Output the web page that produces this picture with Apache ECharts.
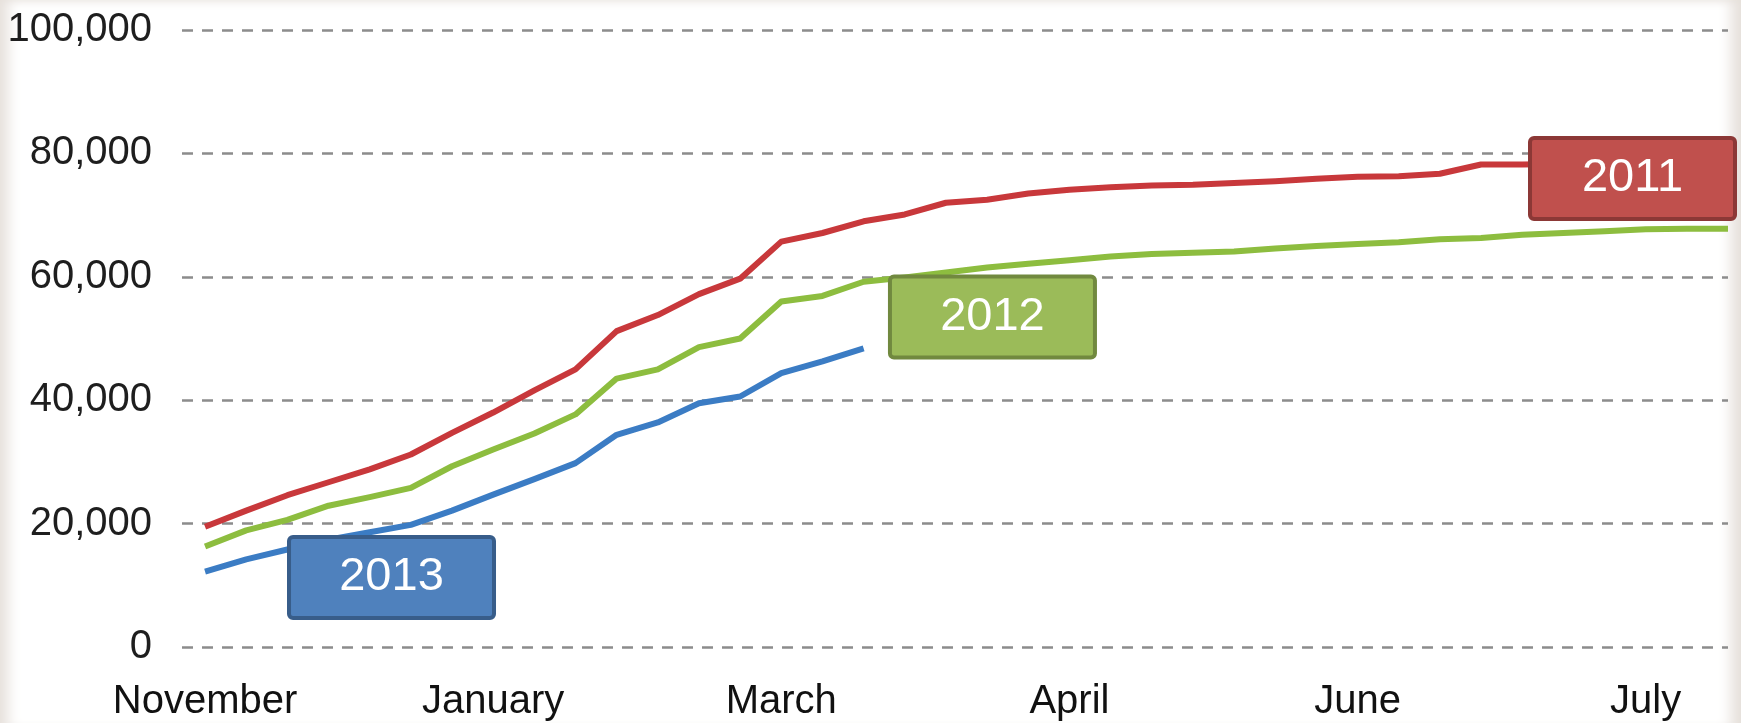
<!DOCTYPE html>
<html>
<head>
<meta charset="utf-8">
<script src="https://cdn.jsdelivr.net/npm/echarts@6/dist/echarts.min.js"></script>
<style>
  html, body { margin: 0; padding: 0; background: #fff; }
  #chart {
    width: 1741px;
    height: 723px;
    box-shadow: inset 18px 0 14px -10px #e6e0db, inset -20px 0 14px -10px #e6e0db, inset 0 10px 10px -8px #ece8e4;
  }
</style>
</head>
<body>
<div id="chart"></div>
<script>
// one category per week, labelled by month
const weeks = [
  'November', 'December', 'December', 'December', 'December', 'December',
  'January', 'January', 'January', 'January',
  'February', 'February', 'February', 'February',
  'March', 'March', 'March', 'March', 'March',
  'April', 'April', 'April', 'April',
  'May', 'May', 'May', 'May',
  'June', 'June', 'June', 'June', 'June',
  'July', 'July', 'July', 'July',
  'August', 'August'
];
const tickWeeks = [0, 7, 14, 21, 28, 35];

const sales2011 = [
  19500, 22100, 24600, 26700, 28800, 31200, 34700, 38000, 41600, 45000,
  51200, 53800, 57200, 59700, 65700, 67100, 69000, 70100, 72000, 72500,
  73500, 74100, 74500, 74800, 74900, 75200, 75500, 75900, 76200, 76300,
  76700, 78200, 78200, 78300, 78500, 78600, 78800, 79000
];
const sales2012 = [
  16300, 18900, 20600, 22900, 24300, 25800, 29300, 32000, 34600, 37700,
  43500, 45000, 48600, 50000, 56000, 56900, 59200, 59900, 60700, 61500,
  62100, 62700, 63300, 63700, 63900, 64100, 64600, 65000, 65300, 65600,
  66100, 66300, 66800, 67100, 67400, 67700, 67800, 67800
];
const sales2013 = [
  12200, 14200, 15800, 17400, 18600, 19800, 22100, 24700, 27200, 29800,
  34400, 36400, 39500, 40600, 44400, 46300, 48400
];

const yearNames = ['2011', '2012', '2013'];

const toPoints = arr => arr.map((v, i) => [i, v]);

// year tag drawn as a boxed label at a data position
function yearLabel(name, coord, fill, border) {
  return {
    symbol: 'circle',
    symbolSize: 0,
    silent: true,
    label: {
      show: true,
      position: 'inside',
      formatter: name,
      color: '#fff',
      fontSize: 47,
      fontFamily: 'Liberation Sans, Arial, sans-serif',
      backgroundColor: fill,
      borderColor: border,
      borderWidth: 4,
      borderRadius: 2,
      padding: 0,
      width: 201,
      height: 77,
      lineHeight: 77,
      align: 'center',
      verticalAlign: 'middle'
    },
    data: [{ coord: coord }]
  };
}

const myChart = echarts.init(document.getElementById('chart'));
myChart.setOption({
  animation: false,
  backgroundColor: 'transparent',
  grid: { left: 182, right: 13, top: 30, bottom: 76, outerBoundsMode: 'none' },
  xAxis: {
    type: 'value',
    min: -0.56,
    max: 37,
    axisLine: { show: false },
    axisTick: { show: false },
    splitLine: { show: false },
    axisLabel: {
      customValues: tickWeeks,
      formatter: v => weeks[v],
      margin: 35,
      color: '#111',
      fontSize: 40,
      fontFamily: 'Liberation Sans, Arial, sans-serif'
    }
  },
  yAxis: {
    type: 'value',
    min: 0,
    max: 100000,
    interval: 20000,
    axisLine: { show: false },
    axisTick: { show: false },
    axisLabel: {
      formatter: v => v.toLocaleString('en-US'),
      margin: 30,
      color: '#1e1e1e',
      fontSize: 40,
      fontFamily: 'Liberation Sans, Arial, sans-serif'
    },
    splitLine: {
      show: true,
      lineStyle: { color: '#8c8c8c', width: 2.5, type: [11, 9] }
    }
  },
  series: [
    {
      name: yearNames[0],
      type: 'line',
      data: toPoints(sales2011),
      showSymbol: false,
      lineStyle: { color: '#c8383b', width: 6, join: 'round' },
      markPoint: yearLabel(yearNames[0], [34.68, 75930], '#c0504d', '#8c3836')
    },
    {
      name: yearNames[1],
      type: 'line',
      data: toPoints(sales2012),
      showSymbol: false,
      lineStyle: { color: '#8dbd3f', width: 6, join: 'round' },
      markPoint: yearLabel(yearNames[1], [19.13, 53480], '#9bbb59', '#71893f')
    },
    {
      name: yearNames[2],
      type: 'line',
      data: toPoints(sales2013),
      showSymbol: false,
      lineStyle: { color: '#3b7cc4', width: 6, join: 'round' },
      markPoint: yearLabel(yearNames[2], [4.53, 11260], '#4f81bd', '#385d8a')
    }
  ]
});
</script>
</body>
</html>
